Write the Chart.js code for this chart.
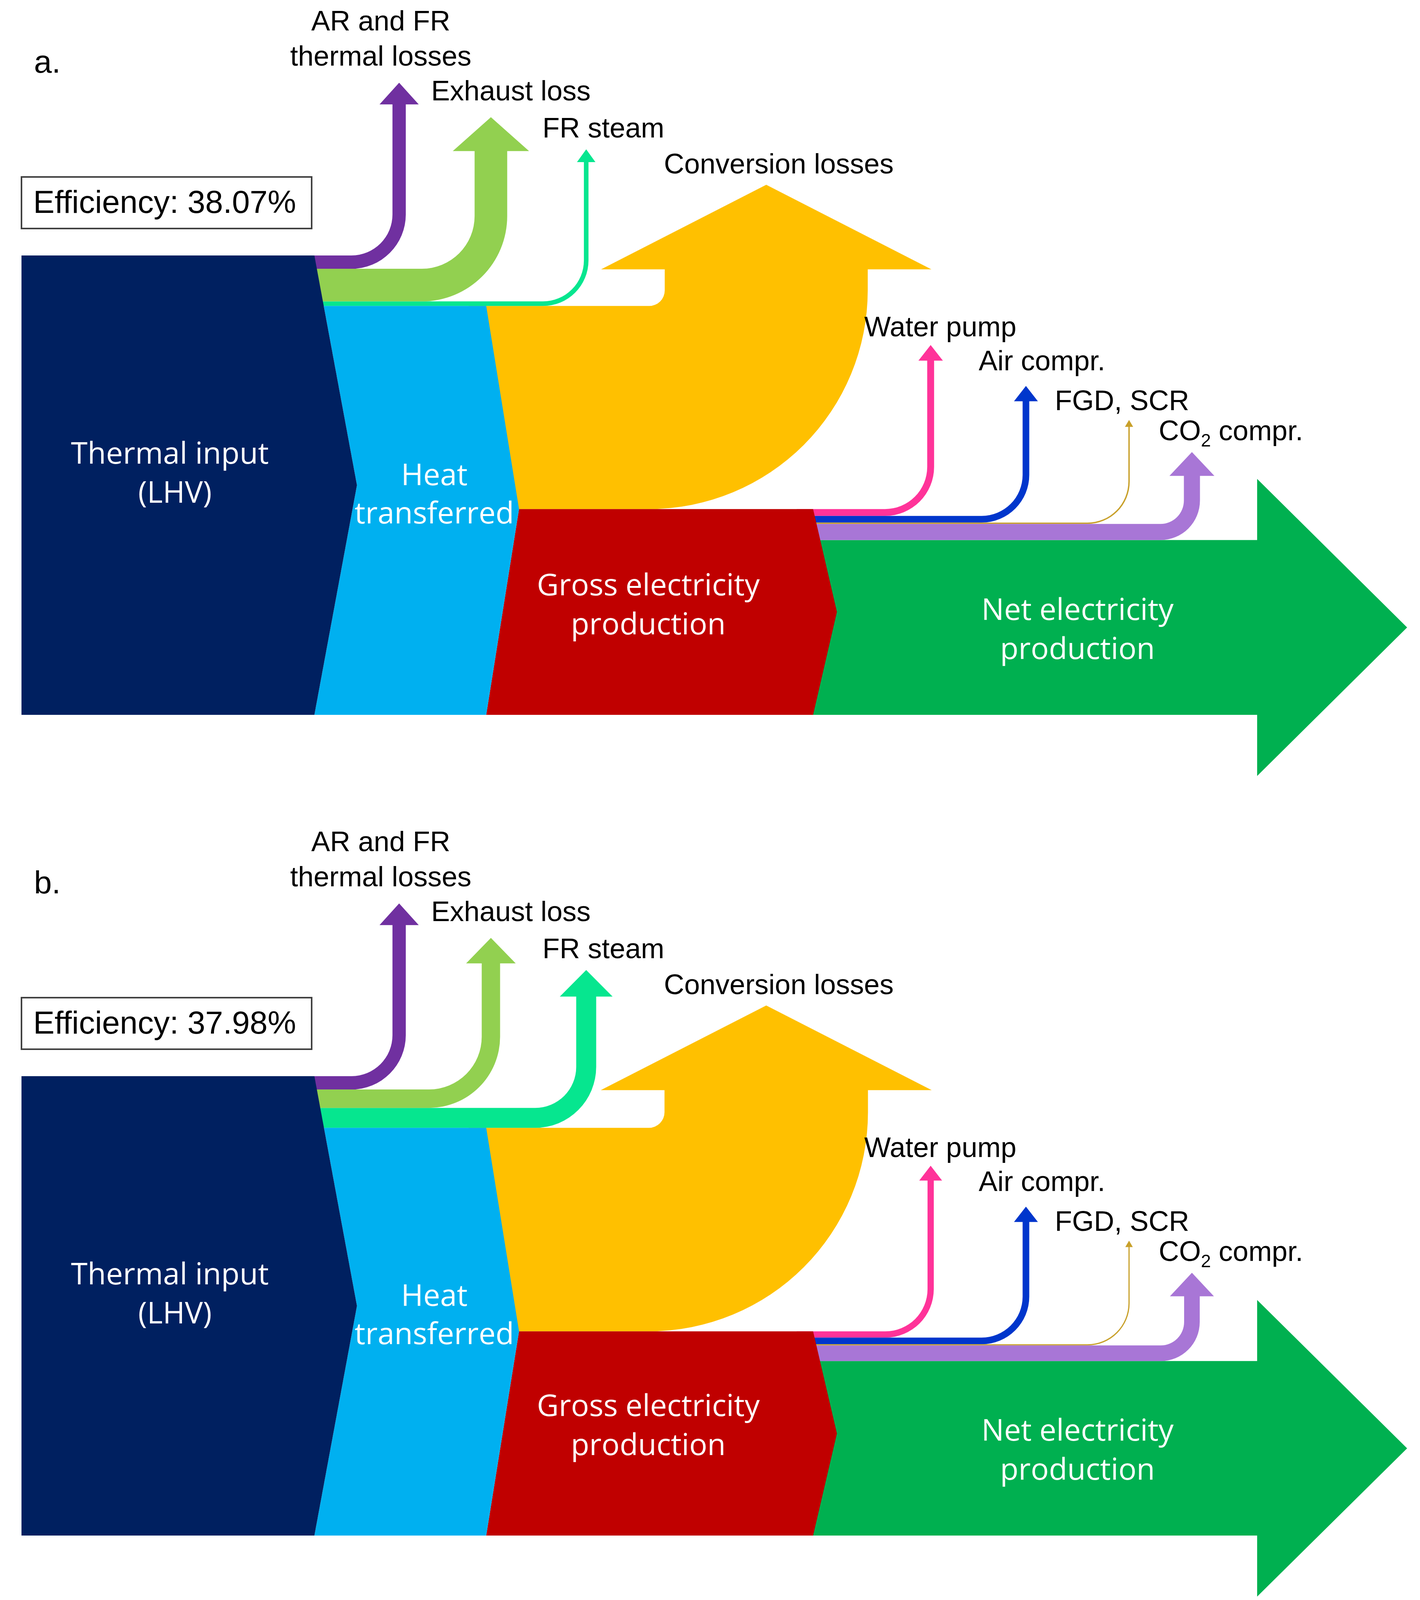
<!DOCTYPE html>
<html>
<head>
<meta charset="utf-8">
<script src="https://cdn.jsdelivr.net/npm/chart.js@4.4.1/dist/chart.umd.min.js"></script>
<style>
  html, body { margin: 0; padding: 0; background: #fff; }
  canvas { display: block; }
</style>
</head>
<body>
<canvas id="panelA" width="3636" height="2101"></canvas>
<canvas id="panelB" width="3636" height="2038"></canvas>
<script>
// energy flows, % of thermal input (LHV)
const thermalInput = 100;
const lossLabels = ['AR and FR thermal losses', 'Exhaust loss', 'FR steam', 'Conversion losses'];
const auxLabels = ['Water pump', 'Air compr.', 'FGD, SCR', 'CO2 compr.'];

// panel a
const lossesA = [2.9, 7.1, 1.0, 44.2];
const auxA = [1.5, 1.45, 0.3, 3.5];
const netA = 38.07;

// panel b
const lossesB = [2.9, 4.0, 4.35, 44.3];
const auxB = [1.36, 1.45, 0.26, 3.4];
const netB = 37.98;

// ---- layout / style ----
const PX_PER_UNIT = 11.76;   // vertical pixels per % of flow
const TOP_PX = 654;          // where the thermal input block starts
const thermalColor = '#002060', heatColor = '#00B0F0', grossColor = '#C00000', netColor = '#00B050';
const lossColors = ['#7030A0', '#92D050', '#06E68F', '#FFC000'];
const auxColors = ['#FF3399', '#0036CC', '#C8A02A', '#A876D6'];

// x positions (layout units = px)
const thermalLeft = 55, thermalRight = 805, thermalDepth = 109;
const heatRight = 1245, heatDepth = 84;
const grossRight = 2082, grossDepth = 61;
const netHeadX = 3219, netTipX = 3603;
const lossStemX = [1022, 1257, 1501, 1962];
const lossTipY = [-37.6, -30.1, -23.1, -15.4];
const lossRadius = [105, 135, 105, 40];
const auxStemX = [2383, 2627, 2891, 3052];
const auxTipY = [19.5, 28.4, 35.8, 42.8];
const auxRadius = [108, 105, 105, 60];

const labelFont = '72px "Liberation Sans", Arial, sans-serif';
const boxFont = '82px "Liberation Sans", Arial, sans-serif';
const whiteFont = '77px "Open Sans", "Noto Sans", sans-serif';

function sum(arr) { return arr.reduce((a, b) => a + b, 0); }

// a band that runs right and turns up into an arrow
function upFlow(ctx, x0, yTop, yBot, stemX, r, tipY, color) {
    const w = yBot - yTop;
    const xL = stemX - w / 2, xR = stemX + w / 2;
    const cx = xL - r, cy = yTop - r;
    const o = 4.2 * Math.pow(w, 0.585);
    const baseY = tipY + 9.5 * Math.sqrt(w);
    ctx.beginPath();
    ctx.moveTo(x0, yTop);
    ctx.lineTo(cx, yTop);
    ctx.arc(cx, cy, r, Math.PI / 2, 0, true);
    ctx.lineTo(xL, baseY);
    ctx.lineTo(xL - o, baseY);
    ctx.lineTo(stemX, tipY);
    ctx.lineTo(xR + o, baseY);
    ctx.lineTo(xR, baseY);
    ctx.lineTo(xR, cy);
    ctx.arc(cx, cy, r + w, 0, Math.PI / 2, false);
    ctx.lineTo(x0, yBot);
    ctx.closePath();
    ctx.fillStyle = color;
    ctx.fill();
}

function poly(ctx, pts, color) {
    ctx.beginPath();
    ctx.moveTo(pts[0][0], pts[0][1]);
    for (let i = 1; i < pts.length; i++) ctx.lineTo(pts[i][0], pts[i][1]);
    ctx.closePath();
    ctx.fillStyle = color;
    ctx.fill();
}

function text(ctx, str, x, y, font, color, align) {
    ctx.font = font;
    ctx.fillStyle = color;
    ctx.textAlign = align || 'left';
    ctx.textBaseline = 'middle';
    ctx.fillText(str, x, y);
}

function sankeyPlugin(panel) {
    return {
        id: 'sankey',
        afterDraw(chart) {
            const ctx = chart.ctx;
            const X = v => chart.scales.x.getPixelForValue(v);
            const Y = v => chart.scales.y.getPixelForValue(v);
            const losses = panel.losses, aux = panel.aux;
            const L = sum(losses.slice(0, 3));
            const vG = L + losses[3];
            const vN = vG + sum(aux);
            const vEnd = thermalInput;
            ctx.save();

            // net electricity arrow
            const yN0 = Y(vN), yN1 = Y(vEnd);
            const oh = 0.35 * (yN1 - yN0);
            poly(ctx, [[X(2040), yN0], [X(netHeadX), yN0], [X(netHeadX), yN0 - oh],
                [X(netTipX), (yN0 + yN1) / 2], [X(netHeadX), yN1 + oh], [X(netHeadX), yN1], [X(2040), yN1]], netColor);

            // auxiliary consumption
            let c = vG;
            aux.forEach((v, i) => {
                upFlow(ctx, X(2040), Y(c), Y(c + v), X(auxStemX[i]), auxRadius[i], Y(auxTipY[i]), auxColors[i]);
                c += v;
            });

            // conversion losses
            upFlow(ctx, X(1200), Y(L), Y(vG), X(lossStemX[3]), lossRadius[3], Y(lossTipY[3]), lossColors[3]);

            // losses leaving the thermal input
            for (let i = 2; i >= 0; i--) {
                const top = sum(losses.slice(0, i));
                upFlow(ctx, X(780), Y(top), Y(top + losses[i]), X(lossStemX[i]), lossRadius[i], Y(lossTipY[i]), lossColors[i]);
            }

            // gross electricity
            poly(ctx, [[X(heatRight + heatDepth), Y(vG)], [X(grossRight), Y(vG)],
                [X(grossRight + grossDepth), Y((vG + vEnd) / 2)], [X(grossRight), Y(vEnd)],
                [X(heatRight), Y(vEnd)]], grossColor);

            // heat transferred
            const xlt = thermalRight + thermalDepth * (L / (vEnd / 2));
            poly(ctx, [[X(xlt), Y(L)], [X(heatRight), Y(L)], [X(heatRight + heatDepth), Y(vG)],
                [X(heatRight), Y(vEnd)], [X(thermalRight), Y(vEnd)],
                [X(thermalRight + thermalDepth), Y(vEnd / 2)]], heatColor);

            // thermal input
            poly(ctx, [[X(thermalLeft), Y(0)], [X(thermalRight), Y(0)],
                [X(thermalRight + thermalDepth), Y(vEnd / 2)], [X(thermalRight), Y(vEnd)],
                [X(thermalLeft), Y(vEnd)]], thermalColor);

            // labels
            text(ctx, panel.tag, 87, 163, boxFont, '#000');
            text(ctx, 'AR and FR', 975, 58, labelFont, '#000', 'center');
            text(ctx, 'thermal losses', 975, 148, labelFont, '#000', 'center');
            text(ctx, lossLabels[1], 1104, 237, labelFont, '#000');
            text(ctx, lossLabels[2], 1389, 332, labelFont, '#000');
            text(ctx, lossLabels[3], 1700, 424, labelFont, '#000');
            text(ctx, auxLabels[0], 2213, 841, labelFont, '#000');
            text(ctx, auxLabels[1], 2506, 928, labelFont, '#000');
            text(ctx, auxLabels[2], 2701, 1030, labelFont, '#000');
            // CO2 with subscript
            ctx.font = labelFont;
            const wCO = ctx.measureText('CO').width;
            text(ctx, 'CO', 2967, 1107, labelFont, '#000');
            text(ctx, '2', 2967 + wCO, 1130, '46px "Liberation Sans", Arial, sans-serif', '#000');
            ctx.font = '46px "Liberation Sans", Arial, sans-serif';
            const w2 = ctx.measureText('2').width;
            text(ctx, ' compr.', 2967 + wCO + w2, 1107, labelFont, '#000');

            // efficiency box
            ctx.strokeStyle = '#404040';
            ctx.lineWidth = 4;
            ctx.strokeRect(55, 453, 743, 132);
            text(ctx, 'Efficiency: ' + panel.net.toFixed(2) + '%', 85, 522, boxFont, '#000');

            text(ctx, 'Thermal input', 435, 1165, whiteFont, '#fff', 'center');
            text(ctx, '(LHV)', 448, 1265, whiteFont, '#fff', 'center');
            text(ctx, 'Heat', 1112, 1220, whiteFont, '#fff', 'center');
            text(ctx, 'transferred', 1112, 1318, whiteFont, '#fff', 'center');
            text(ctx, 'Gross electricity', 1660, 1502, whiteFont, '#fff', 'center');
            text(ctx, 'production', 1660, 1602, whiteFont, '#fff', 'center');
            text(ctx, 'Net electricity', 2759, 1565, whiteFont, '#fff', 'center');
            text(ctx, 'production', 2759, 1665, whiteFont, '#fff', 'center');
            ctx.restore();
        }
    };
}

function makeChart(id, losses, aux, net, tag) {
    const canvas = document.getElementById(id);
    const yMin = -TOP_PX / PX_PER_UNIT;
    const yMax = yMin + canvas.height / PX_PER_UNIT;
    return new Chart(canvas, {
        type: 'scatter',
        data: { datasets: [{ data: [] }] },
        options: {
            responsive: false,
            animation: false,
            devicePixelRatio: 1,
            layout: { padding: 0 },
            plugins: { legend: { display: false }, tooltip: { enabled: false } },
            scales: {
                x: { type: 'linear', min: 0, max: canvas.width, display: false },
                y: { type: 'linear', min: yMin, max: yMax, reverse: true, display: false }
            }
        },
        plugins: [sankeyPlugin({ losses, aux, net, tag })]
    });
}

makeChart('panelA', lossesA, auxA, netA, 'a.');
makeChart('panelB', lossesB, auxB, netB, 'b.');
</script>
</body>
</html>
